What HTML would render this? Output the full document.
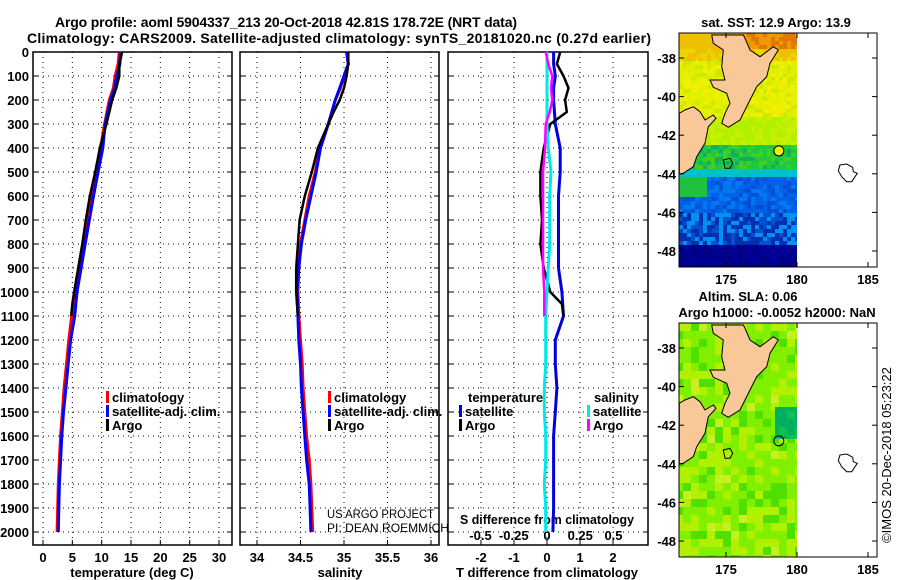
<!DOCTYPE html>
<html><head><meta charset="utf-8"><style>
body{margin:0;background:#fff}
svg{display:block;font-family:"Liberation Sans",sans-serif}
.b{font-weight:bold;font-size:13px}
.t{font-weight:bold;font-size:14px}
.g{stroke:#000;stroke-width:1;stroke-dasharray:1,4}
</style></head><body>
<svg id="c" width="900" height="580" viewBox="0 0 900 580" xmlns="http://www.w3.org/2000/svg">
<text class="t" x="286" y="27" text-anchor="middle" textLength="462">Argo profile: aoml 5904337_213 20-Oct-2018 42.81S 178.72E (NRT data)</text>
<text class="t" x="339" y="43" text-anchor="middle" textLength="624">Climatology: CARS2009. Satellite-adjusted climatology: synTS_20181020.nc (0.27d earlier)</text>
<g id="plots"></g>
<g id="maps"></g>
<text x="891" y="455" font-size="13" text-anchor="middle" transform="rotate(-90 891 455)">©IMOS 20-Dec-2018 05:23:22</text>
</svg>
<script>
// ---- data ----
const depthsA=[0,50,100,150,200,250,300,400,500,600,700,800,900,1000,1050,1100];
const depthsC=[0,50,100,150,200,300,400,500,600,700,800,900,1000,1100,1200,1300,1400,1500,1600,1700,1800,1900,2000];
const tempArgo=[13.5,13.0,13.0,12.5,11.8,11.3,10.8,9.7,8.9,8.0,7.3,6.7,6.0,5.3,5.0,4.8];
const tempClim=[13.0,12.8,12.3,12.0,11.3,10.5,9.8,9.0,8.3,7.6,6.9,6.2,5.4,4.9,4.4,4.0,3.6,3.3,3.0,2.8,2.6,2.5,2.4];
const tempSat=[13.2,13.1,12.6,12.2,11.5,10.6,10.2,9.4,8.6,7.9,7.2,6.5,5.8,5.4,4.7,4.3,3.9,3.5,3.2,3.0,2.8,2.7,2.6];
const salArgo=[35.05,35.05,35.03,35.0,34.95,34.88,34.82,34.7,34.63,34.55,34.49,34.47,34.45,34.45,34.46,34.47];
const salClim=[35.03,35.05,35.0,34.96,34.9,34.82,34.72,34.67,34.6,34.55,34.5,34.48,34.47,34.48,34.5,34.52,34.53,34.55,34.57,34.6,34.62,34.63,34.64];
const salSat=[35.03,35.05,35.0,34.95,34.9,34.82,34.73,34.68,34.62,34.56,34.51,34.48,34.46,34.47,34.48,34.5,34.51,34.53,34.55,34.57,34.6,34.61,34.62];
const tdSat=[0.2,0.2,0.25,0.2,0.2,0.25,0.4,0.4,0.35,0.35,0.35,0.35,0.45,0.5,0.25,0.25,0.3,0.25,0.2,0.2,0.2,0.2,0.18];
const tdArgo=[0.4,0.3,0.5,0.65,0.55,0.6,0.1,-0.1,-0.2,-0.2,-0.15,-0.2,-0.1,0.1,0.45,0.5];
const sdSat=[0,0,0,0,0,0,0.01,0.03,0.02,0.02,0.02,0.01,0.0,-0.01,-0.01,-0.01,-0.02,-0.02,-0.01,-0.01,-0.02,-0.01,-0.01];
const sdArgo=[-0.01,0.01,0.04,0.03,0.04,0.02,-0.01,-0.015,-0.03,-0.03,-0.03,-0.03,-0.03,-0.02,-0.02,-0.02];
const depthTicks=[0,100,200,300,400,500,600,700,800,900,1000,1100,1200,1300,1400,1500,1600,1700,1800,1900,2000];
const tTicks=[0,5,10,15,20,25,30];
const sTicks=[34,34.5,35,35.5,36];
const tdTicks=[-2,-1,0,1,2];
const sdTicks=[-0.5,-0.25,0,0.25,0.5];

// ---- axes ----
const yD=d=>52+d*0.24;
const xT=t=>43+t*5.867;
const xS=s=>257+(s-34)*87;
const xTd=v=>547+v*33;
const xSd=v=>547+v*133;
const NS="http://www.w3.org/2000/svg";
function mk(tag,attrs,parent,txt){const e=document.createElementNS(NS,tag);for(const k in attrs)e.setAttribute(k,attrs[k]);if(txt!=null)e.textContent=txt;parent.appendChild(e);return e;}
const P=document.getElementById('plots');
const panels=[{x0:33,x1:232,name:'temperature'},{x0:240,x1:439,name:'salinity'},{x0:448,x1:648,name:'difference'}];
panels.forEach(p=>{
  const g=mk('g',{},P);
  
  
  depthTicks.forEach(d=>{ if(d>0){const l=mk('line',{x1:p.x0,x2:p.x1,y1:yD(d),y2:yD(d),class:'g'},g);
    
    }
    mk('line',{x1:p.x0,x2:p.x0+5,y1:yD(d),y2:yD(d),stroke:'#000'},g);
    mk('line',{x1:p.x1-5,x2:p.x1,y1:yD(d),y2:yD(d),stroke:'#000'},g);
  });
  const r=mk('rect',{x:p.x0,y:52,width:p.x1-p.x0,height:493,fill:'none',stroke:'#000','stroke-width':1.5},g);
  
  
});
depthTicks.forEach(d=>{const t=mk('text',{x:29,y:yD(d)+5,'text-anchor':'end',class:'b'},P,String(d));
  
  });
function vgrid(ticks,f,labY){ticks.forEach(v=>{const x=f(v);
  const l=mk('line',{x1:x,x2:x,y1:52,y2:545,class:'g'},P);
  
  
  mk('line',{x1:x,x2:x,y1:540,y2:545,stroke:'#000'},P);
  const t=mk('text',{x:x,y:labY,'text-anchor':'middle',class:'b'},P,String(v));
  
  });}
vgrid(tTicks,xT,562);
vgrid(sTicks,xS,562);
vgrid(tdTicks,xTd,562);
sdTicks.forEach(v=>{const x=xSd(v);const t=mk('text',{x:x,y:540,'text-anchor':'middle',class:'b'},P,String(v));
  
  });
[[132,'temperature (deg C)','temperature-axis-title'],[340,'salinity','salinity-axis-title'],[547,'T difference from climatology','t-diff-axis-title']].forEach(a=>{
  const t=mk('text',{x:a[0],y:577,'text-anchor':'middle',class:'b'},P,a[1]);
  
  });
const st=mk('text',{x:547,y:524,'text-anchor':'middle',class:'b',textLength:174,lengthAdjust:'spacingAndGlyphs'},P,'S difference from climatology');



function line(vals,depths,fx,color,w,name){
  const pts=vals.map((v,i)=>fx(v).toFixed(1)+','+yD(depths[i]).toFixed(1)).join(' ');
  const pl=mk('polyline',{points:pts,fill:'none',stroke:color,'stroke-width':w,'stroke-linejoin':'round'},P);
  
  }
line(tempClim,depthsC,xT,'#f00',3,'temp-climatology-line');
line(tempSat,depthsC,xT,'#00f',3,'temp-satellite-line');
line(tempArgo,depthsA,xT,'#000',2.5,'temp-argo-line');
line(salClim,depthsC,xS,'#f00',3,'sal-climatology-line');
line(salSat,depthsC,xS,'#00f',3,'sal-satellite-line');
line(salArgo,depthsA,xS,'#000',2.5,'sal-argo-line');
line(tdSat,depthsC,xTd,'#0000e0',3,'tdiff-satellite-line');
line(tdArgo,depthsA,xTd,'#000',2.5,'tdiff-argo-line');
line(sdSat,depthsC,xSd,'#00e8e8',3,'sdiff-satellite-line');
line(sdArgo,depthsA,xSd,'#f0f',2.5,'sdiff-argo-line');

function legend(x,y,color,label,name){
  const g=mk('g',{},P);
  
  
  mk('rect',{x:x,y:y-6,width:3,height:12,fill:color},g);
  mk('text',{x:x+6,y:y+5,class:'b'},g,label);}
legend(106,397,'#f00','climatology','legend-climatology');
legend(106,411,'#00f','satellite-adj. clim.','legend-satellite');
legend(106,425,'#000','Argo','legend-argo');
legend(328,397,'#f00','climatology','legend-sal-climatology');
legend(328,411,'#00f','satellite-adj. clim.','legend-sal-satellite');
legend(328,425,'#000','Argo','legend-sal-argo');
const lt=mk('text',{x:468,y:402,class:'b'},P,'temperature');


legend(459,411,'#0000e0','satellite','legend-t-satellite');
legend(459,425,'#000','Argo','legend-t-argo');
const ls=mk('text',{x:594,y:402,class:'b'},P,'salinity');


legend(587,411,'#00e8e8','satellite','legend-s-satellite');
legend(587,425,'#f0f','Argo','legend-s-argo');
[['US ARGO PROJECT',518,107],['PI: DEAN ROEMMICH',532,122]].forEach((a,i)=>{
  const t=mk('text',{x:327,y:a[1],'font-size':12,textLength:a[2],lengthAdjust:'spacingAndGlyphs'},P,a[0]);
  
  });

// ---- maps ----
const M=document.getElementById('maps');
const lonX=l=>726+(l-175)*14.2;
const latY=(l,off)=>58+off+(-38-l)*19.3;
function hash(i,j){let h=(i*374761393+j*668265263)>>>0;h=(h^(h>>>13))*1274126177>>>0;return (h&1023)/1023;}
function sstColor(lat,lon,h){
  if(lat>-37.4) return lon>176?(h<0.5?'#e07800':'#f09a00'):'#f0c000';
  if(lat>-38) return h<0.5?'#f0c000':'#e8d800';
  if(lat>-41) return h<0.3?'#e0f000':(h<0.7?'#f0f000':'#d0e800');
  if(lat>-42.4) return h<0.5?'#b0f000':'#c8f000';
  if(lat>-43.7) return h<0.4?'#20c840':(h<0.7?'#40d020':'#10b060');
  if(lat>-44.1) return '#00c0c8';
  if(lat>-45 && lon<173.5) return '#20c040';
  if(lat>-46) return h<0.3?'#0060e8':(h<0.6?'#0050d0':'#0078f0');
  if(lat>-47.5) return h<0.3?'#0030b0':(h<0.6?'#0090f0':'#0050d0');
  return h<0.5?'#000080':'#000098';}
function slaColor(lat,lon,h){
  if(lat<-41 && lat>-42.6 && lon>178.2) return h<0.5?'#00b060':'#10c050';
  return h<0.3?'#80f000':(h<0.6?'#b0f000':(h<0.8?'#50e000':'#c8f020'));}
function drawMap(off,colorFn,prefix,title1,title2){
  const g=mk('g',{},M);
  
  
  const cs=4;
  for(let y=33+off;y<267+off;y+=cs){for(let x=679;x<797;x+=cs){
    const lat=-38-(y-58-off)/19.3, lon=175+(x-726)/14.2;
    const h=hash(Math.floor(x/(off?8:cs)),Math.floor(y/(off?8:cs)));
    mk('rect',{x:x,y:y,width:Math.min(cs,797-x),height:Math.min(cs,267+off-y),fill:colorFn(lat,lon,h)},g);}}
  const toP=(pts)=>pts.map(p=>(660+p[0]/3).toFixed(1)+','+(p[1]/3+off).toFixed(1)).join(' ');
  const ni=[[155,105],[250,105],[255,115],[270,150],[300,170],[340,140],[355,150],[330,190],[320,230],[290,260],[270,300],[240,360],[205,382],[185,370],[195,340],[210,310],[200,280],[160,262],[150,240],[195,240],[185,200],[190,150],[160,130]];
  const si=[[58,340],[75,330],[100,320],[120,335],[135,360],[160,345],[168,355],[145,380],[135,430],[110,470],[100,500],[70,520],[58,522]];
  [ni,si].forEach((s,i)=>{const pg=mk('polygon',{points:toP(s),fill:'#f8c898',stroke:'#000','stroke-width':1},g);
    
    });
  const ch=[[540,495],[560,492],[578,502],[580,515],[592,520],[585,530],[575,545],[560,545],[545,530],[535,512]];
  const cp=mk('polygon',{points:toP(ch),fill:'none',stroke:'#000','stroke-width':1},g);
  
  
  mk('polygon',{points:toP([[190,480],[210,475],[218,490],[210,505],[195,505]]),fill:'none',stroke:'#000'},g);
  const fl=mk('circle',{cx:lonX(178.72),cy:latY(-42.81,off),r:5,fill:off?'none':'#f0f000',stroke:'#000'},g);
  
  
  const fr=mk('rect',{x:679,y:33+off,width:198,height:234,fill:'none',stroke:'#000'},g);
  
  
  [-38,-40,-42,-44,-46,-48].forEach(l=>{const y=latY(l,off);
    mk('line',{x1:679,x2:684,y1:y,y2:y,stroke:'#000'},g);mk('line',{x1:872,x2:877,y1:y,y2:y,stroke:'#000'},g);
    const t=mk('text',{x:676,y:y+5,'text-anchor':'end',class:'b'},g,String(l));
    
    });
  [175,180,185].forEach(l=>{const x=lonX(l);
    mk('line',{x1:x,x2:x,y1:262+off,y2:267+off,stroke:'#000'},g);mk('line',{x1:x,x2:x,y1:33+off,y2:38+off,stroke:'#000'},g);
    const t=mk('text',{x:x,y:284+off,'text-anchor':'middle',class:'b'},g,String(l));
    
    });
  if(title2){
    const a=mk('text',{x:748,y:301,'text-anchor':'middle',class:'b'},g,title1);
    
    
    const b=mk('text',{x:777,y:317,'text-anchor':'middle',class:'b'},g,title2);
    
    
  } else {
    const a=mk('text',{x:776,y:27,'text-anchor':'middle',class:'b'},g,title1);
    
    
  }
}
drawMap(0,sstColor,'sst','sat. SST: 12.9 Argo: 13.9',null);
drawMap(290,slaColor,'sla','Altim. SLA: 0.06','Argo h1000: -0.0052 h2000: NaN');
</script>
</body></html>
